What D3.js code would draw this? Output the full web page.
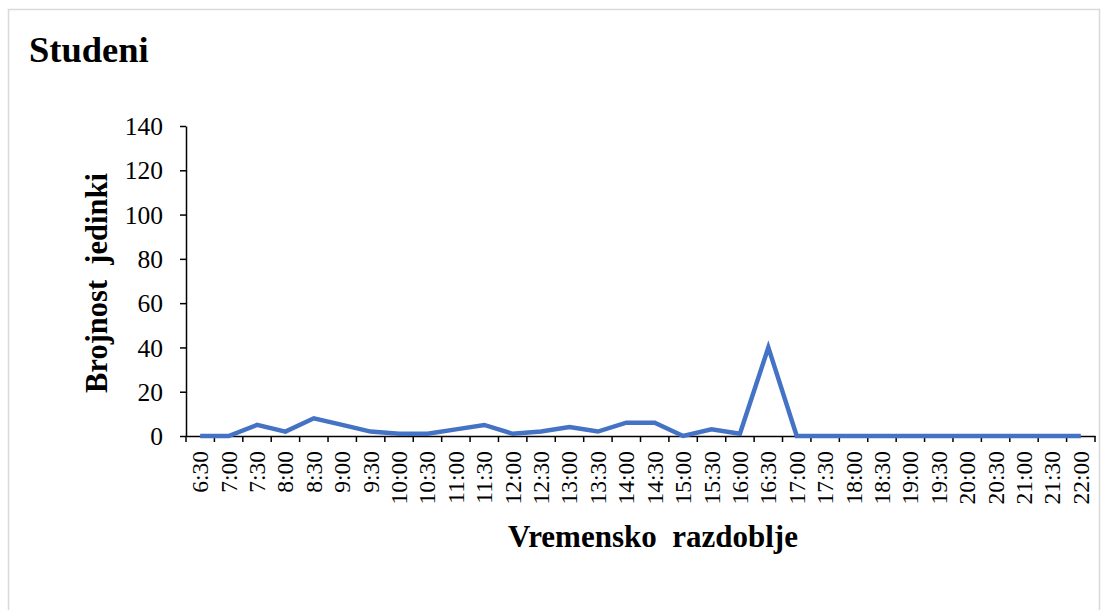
<!DOCTYPE html>
<html>
<head>
<meta charset="utf-8">
<script src="https://cdn.jsdelivr.net/npm/d3@7"></script>
<style>
  body { margin: 0; background: #fff; }
  svg { display: block; }
  text { font-family: "Liberation Serif", "Times New Roman", serif; fill: #000; }
</style>
</head>
<body>
<svg id="chart" width="1105" height="610"></svg>
<script>
const categories = ["6:30","7:00","7:30","8:00","8:30","9:00","9:30","10:00","10:30","11:00","11:30","12:00","12:30","13:00","13:30","14:00","14:30","15:00","15:30","16:00","16:30","17:00","17:30","18:00","18:30","19:00","19:30","20:00","20:30","21:00","21:30","22:00"];
const values = [0,0,5,2,8,5,2,1,1,3,5,1,2,4,2,6,6,0,3,1,40,0,0,0,0,0,0,0,0,0,0,0];
const yTicks = [0,20,40,60,80,100,120,140];
const title = "Studeni";
const xTitle = "Vremensko  razdoblje";
const yTitle = "Brojnost  jedinki";

const svg = d3.select("#chart");
svg.append("rect").attr("x", 8.5).attr("y", 9.5).attr("width", 1091).attr("height", 620)
  .attr("fill", "#fff").attr("stroke", "#d9d9d9").attr("stroke-width", 1.5);

const mLeft = 186, mRight = 1095, mTop = 126, mBottom = 436;
const x = d3.scaleBand().domain(categories).range([mLeft, mRight]);
const y = d3.scaleLinear().domain([0, 140]).range([mBottom, mTop]);

// Title
svg.append("text").attr("x", 29).attr("y", 62).attr("font-size", 36.5).attr("font-weight", "bold").text(title);

// Y axis
const yAxis = svg.append("g").attr("transform", `translate(${mLeft},0)`)
  .call(d3.axisLeft(y).tickValues(yTicks).tickSize(6).tickSizeOuter(0).tickPadding(17));
yAxis.select(".domain").attr("stroke", "#000").attr("stroke-width", 1.5);
yAxis.selectAll(".tick line").attr("stroke", "#000").attr("stroke-width", 1.5);
yAxis.selectAll(".tick text").attr("font-size", 25.5).attr("font-family", "Liberation Serif, serif").attr("fill", "#000").attr("dy", "0.34em");

// X axis
const xAxis = svg.append("g").attr("transform", `translate(0,${mBottom})`)
  .call(d3.axisBottom(x).tickSize(0).tickSizeOuter(0));
xAxis.select(".domain").attr("stroke", "#000").attr("stroke-width", 1.5);
xAxis.selectAll(".tick text")
  .attr("font-size", 23.5).attr("font-family", "Liberation Serif, serif").attr("fill", "#000")
  .attr("text-anchor", "end")
  .attr("transform", "rotate(-90)")
  .attr("x", -15).attr("y", 0).attr("dy", "0.34em");
// band boundary ticks
const boundaries = categories.map(c => x(c)).concat([x(categories[categories.length-1]) + x.bandwidth()]);
svg.append("g").selectAll("line").data(boundaries).join("line")
  .attr("x1", d => d).attr("x2", d => d).attr("y1", mBottom).attr("y2", mBottom + 6)
  .attr("stroke", "#000").attr("stroke-width", 1.5);

// Line
const line = d3.line().x((d, i) => x(categories[i]) + x.bandwidth() / 2).y(d => y(d));
svg.append("path").datum(values).attr("d", line)
  .attr("fill", "none").attr("stroke", "#4472C4").attr("stroke-width", 4.5)
  .attr("stroke-linejoin", "miter").attr("stroke-linecap", "butt");

// Axis titles
svg.append("text").attr("x", 653).attr("y", 547)
  .attr("text-anchor", "middle").attr("font-size", 31).attr("font-weight", "bold")
  .style("white-space", "pre").text(xTitle);
svg.append("text").attr("transform", `translate(107,283) rotate(-90)`)
  .attr("text-anchor", "middle").attr("font-size", 30.5).attr("font-weight", "bold")
  .style("white-space", "pre").text(yTitle);
</script>
</body>
</html>
